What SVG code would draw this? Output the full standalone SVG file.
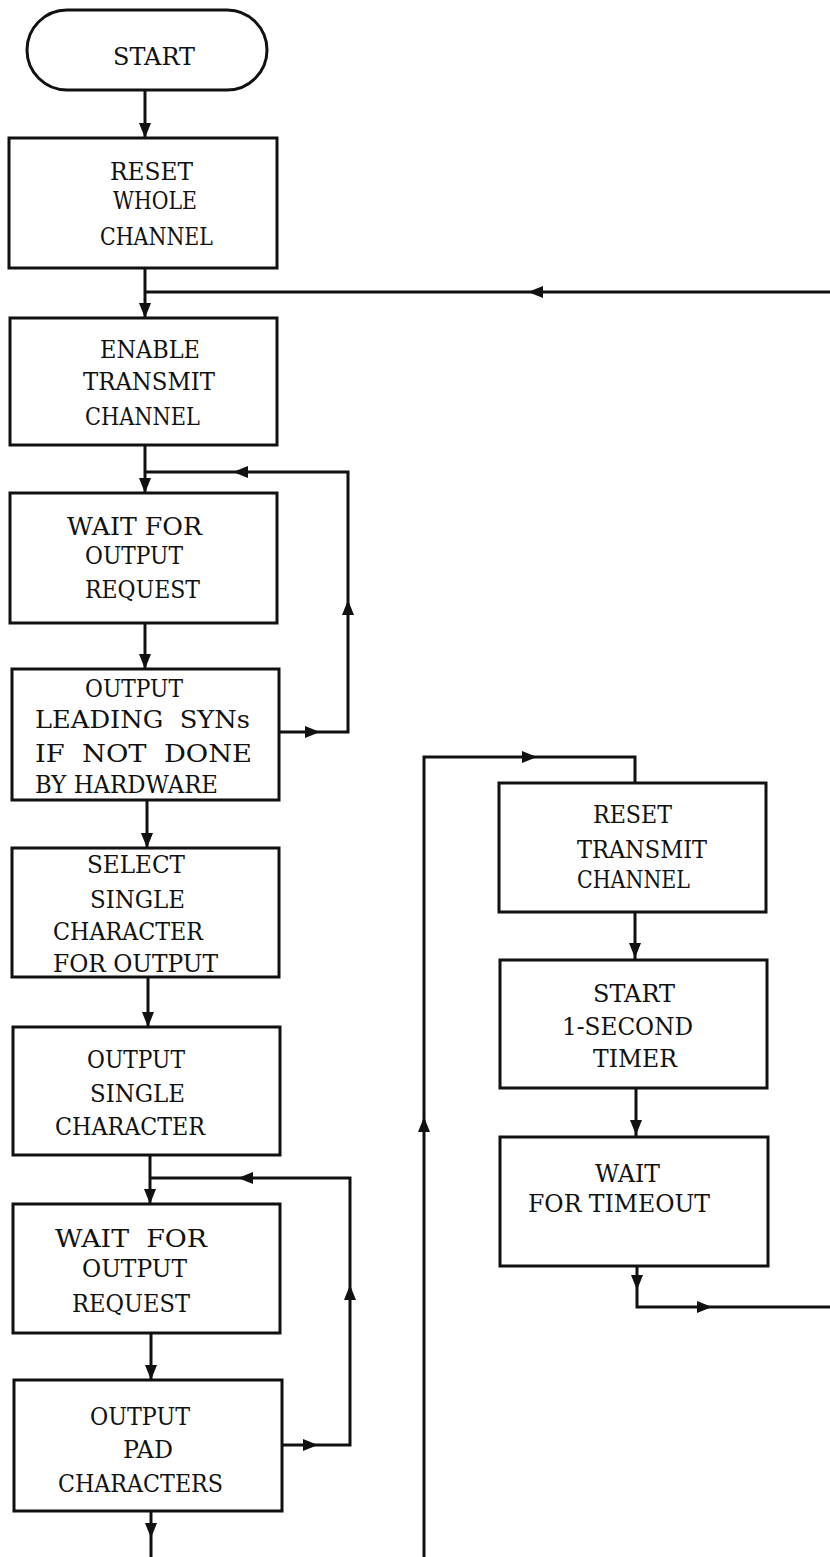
<svg xmlns="http://www.w3.org/2000/svg" xmlns:xlink="http://www.w3.org/1999/xlink" width="830" height="1557" viewBox="0 0 830 1557">
<style>
.box{fill:#fff;stroke:#111;stroke-width:3}
.ln{fill:none;stroke:#111;stroke-width:3}
.t{font-family:"DejaVu Serif","Liberation Serif",serif;font-size:23.5px;fill:#111;white-space:pre}
</style>
<defs>
<polygon id="ah" points="-6,-15 6,-15 0,0" fill="#111"/>
</defs>
<rect width="830" height="1557" fill="#fff"/>
<g id="connectors">
<path class="ln" d="M145,90 V138"/>
<path class="ln" d="M145,268 V318"/>
<path class="ln" d="M145,292 H830"/>
<path class="ln" d="M145,445 V493"/>
<path class="ln" d="M145,472 H348 V732 H279"/>
<path class="ln" d="M145,623 V669"/>
<path class="ln" d="M147,800 V848"/>
<path class="ln" d="M148,977 V1027"/>
<path class="ln" d="M150,1155 V1204"/>
<path class="ln" d="M150,1178 H350 V1445 H282"/>
<path class="ln" d="M151,1333 V1380"/>
<path class="ln" d="M151,1511 V1557"/>
<path class="ln" d="M424,1557 V757 H635 V783"/>
<path class="ln" d="M635,912 V960"/>
<path class="ln" d="M636,1088 V1137"/>
<path class="ln" d="M637,1266 V1307 H830"/>
<use xlink:href="#ah" transform="translate(145,138)"/>
<use xlink:href="#ah" transform="translate(145,318)"/>
<use xlink:href="#ah" transform="translate(528,292) rotate(90)"/>
<use xlink:href="#ah" transform="translate(145,493)"/>
<use xlink:href="#ah" transform="translate(233,472) rotate(90)"/>
<use xlink:href="#ah" transform="translate(348,600) rotate(180)"/>
<use xlink:href="#ah" transform="translate(320,732) rotate(-90)"/>
<use xlink:href="#ah" transform="translate(145,669)"/>
<use xlink:href="#ah" transform="translate(147,848)"/>
<use xlink:href="#ah" transform="translate(148,1027)"/>
<use xlink:href="#ah" transform="translate(150,1204)"/>
<use xlink:href="#ah" transform="translate(238,1178) rotate(90)"/>
<use xlink:href="#ah" transform="translate(350,1285) rotate(180)"/>
<use xlink:href="#ah" transform="translate(151,1380)"/>
<use xlink:href="#ah" transform="translate(318,1445) rotate(-90)"/>
<use xlink:href="#ah" transform="translate(151,1538)"/>
<use xlink:href="#ah" transform="translate(424,1117) rotate(180)"/>
<use xlink:href="#ah" transform="translate(537,757) rotate(-90)"/>
<use xlink:href="#ah" transform="translate(635,958)"/>
<use xlink:href="#ah" transform="translate(636,1135)"/>
<use xlink:href="#ah" transform="translate(637,1290)"/>
<use xlink:href="#ah" transform="translate(712,1307) rotate(-90)"/>
</g>
<g id="start">
<rect class="box" x="27" y="10" width="240" height="80" rx="40" ry="40"/>
<text class="t" x="113" y="65" textLength="82" lengthAdjust="spacingAndGlyphs">START</text>
</g>
<g id="reset-whole">
<rect class="box" x="9" y="138" width="268" height="130"/>
<text class="t" x="110" y="180" textLength="83" lengthAdjust="spacingAndGlyphs">RESET</text>
<text class="t" x="113" y="209" textLength="84" lengthAdjust="spacingAndGlyphs">WHOLE</text>
<text class="t" x="100" y="245" textLength="113" lengthAdjust="spacingAndGlyphs">CHANNEL</text>
</g>
<g id="enable-transmit">
<rect class="box" x="10" y="318" width="267" height="127"/>
<text class="t" x="100" y="358" textLength="100" lengthAdjust="spacingAndGlyphs">ENABLE</text>
<text class="t" x="83" y="390" textLength="132" lengthAdjust="spacingAndGlyphs">TRANSMIT</text>
<text class="t" x="85" y="425" textLength="115" lengthAdjust="spacingAndGlyphs">CHANNEL</text>
</g>
<g id="wait-request-1">
<rect class="box" x="10" y="493" width="267" height="130"/>
<text class="t" x="67" y="535" textLength="135" lengthAdjust="spacingAndGlyphs">WAIT FOR</text>
<text class="t" x="85" y="564" textLength="98" lengthAdjust="spacingAndGlyphs">OUTPUT</text>
<text class="t" x="85" y="598" textLength="115" lengthAdjust="spacingAndGlyphs">REQUEST</text>
</g>
<g id="output-syns">
<rect class="box" x="12" y="669" width="267" height="131"/>
<text class="t" x="85" y="697" textLength="98" lengthAdjust="spacingAndGlyphs">OUTPUT</text>
<text class="t" x="35" y="728" textLength="215" lengthAdjust="spacingAndGlyphs">LEADING  SYNs</text>
<text class="t" x="35" y="762" textLength="217" lengthAdjust="spacingAndGlyphs">IF  NOT  DONE</text>
<text class="t" x="35" y="793" textLength="183" lengthAdjust="spacingAndGlyphs">BY HARDWARE</text>
</g>
<g id="select-char">
<rect class="box" x="12" y="848" width="267" height="129"/>
<text class="t" x="87" y="873" textLength="98" lengthAdjust="spacingAndGlyphs">SELECT</text>
<text class="t" x="90" y="908" textLength="95" lengthAdjust="spacingAndGlyphs">SINGLE</text>
<text class="t" x="53" y="940" textLength="150" lengthAdjust="spacingAndGlyphs">CHARACTER</text>
<text class="t" x="53" y="972" textLength="165" lengthAdjust="spacingAndGlyphs">FOR OUTPUT</text>
</g>
<g id="output-single">
<rect class="box" x="13" y="1027" width="267" height="128"/>
<text class="t" x="87" y="1068" textLength="98" lengthAdjust="spacingAndGlyphs">OUTPUT</text>
<text class="t" x="90" y="1102" textLength="95" lengthAdjust="spacingAndGlyphs">SINGLE</text>
<text class="t" x="55" y="1135" textLength="150" lengthAdjust="spacingAndGlyphs">CHARACTER</text>
</g>
<g id="wait-request-2">
<rect class="box" x="13" y="1204" width="267" height="129"/>
<text class="t" x="55" y="1247" textLength="152" lengthAdjust="spacingAndGlyphs">WAIT  FOR</text>
<text class="t" x="82" y="1277" textLength="105" lengthAdjust="spacingAndGlyphs">OUTPUT</text>
<text class="t" x="72" y="1312" textLength="118" lengthAdjust="spacingAndGlyphs">REQUEST</text>
</g>
<g id="output-pad">
<rect class="box" x="14" y="1380" width="268" height="131"/>
<text class="t" x="90" y="1425" textLength="100" lengthAdjust="spacingAndGlyphs">OUTPUT</text>
<text class="t" x="123" y="1458" textLength="50" lengthAdjust="spacingAndGlyphs">PAD</text>
<text class="t" x="58" y="1492" textLength="165" lengthAdjust="spacingAndGlyphs">CHARACTERS</text>
</g>
<g id="reset-transmit">
<rect class="box" x="499" y="783" width="267" height="129"/>
<text class="t" x="593" y="823" textLength="79" lengthAdjust="spacingAndGlyphs">RESET</text>
<text class="t" x="577" y="858" textLength="130" lengthAdjust="spacingAndGlyphs">TRANSMIT</text>
<text class="t" x="577" y="888" textLength="113" lengthAdjust="spacingAndGlyphs">CHANNEL</text>
</g>
<g id="start-timer">
<rect class="box" x="500" y="960" width="267" height="128"/>
<text class="t" x="593" y="1002" textLength="82" lengthAdjust="spacingAndGlyphs">START</text>
<text class="t" x="562" y="1035" textLength="131" lengthAdjust="spacingAndGlyphs">1-SECOND</text>
<text class="t" x="593" y="1067" textLength="84" lengthAdjust="spacingAndGlyphs">TIMER</text>
</g>
<g id="wait-timeout">
<rect class="box" x="500" y="1137" width="268" height="129"/>
<text class="t" x="595" y="1182" textLength="65" lengthAdjust="spacingAndGlyphs">WAIT</text>
<text class="t" x="528" y="1212" textLength="182" lengthAdjust="spacingAndGlyphs">FOR TIMEOUT</text>
</g>
</svg>
